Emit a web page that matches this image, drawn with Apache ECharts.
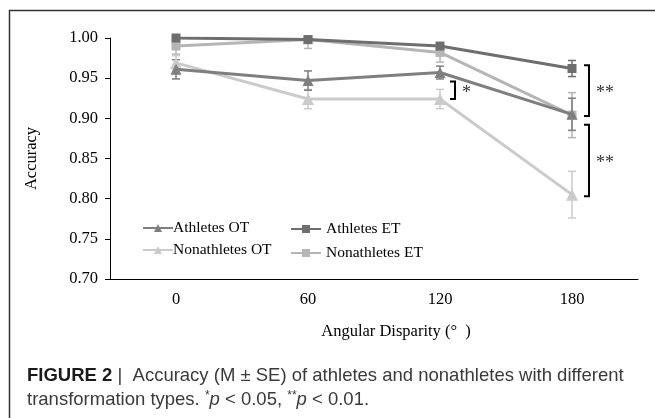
<!DOCTYPE html>
<html>
<head>
<meta charset="utf-8">
<script src="https://cdn.jsdelivr.net/npm/echarts@6/dist/echarts.min.js"></script>
<style>
html,body{margin:0;padding:0;background:#fff;}
#chart{width:655px;height:418px;}
</style>
</head>
<body>
<div id="chart"></div>
<script>
// ---- data ----
const categories = ['0', '60', '120', '180'];
const yTicks = [0.70, 0.75, 0.80, 0.85, 0.90, 0.95, 1.00];

const athletesOT = [0.961, 0.947, 0.957, 0.905];
const athletesOTErr = [0.012, 0.012, 0.008, 0.020];
const athletesET = [1.000, 0.998, 0.990, 0.962];
const athletesETErr = [0.001, 0.001, 0.003, 0.010];
const nonathletesOT = [0.969, 0.924, 0.924, 0.805];
const nonathletesOTErr = [0.009, 0.012, 0.012, 0.029];
const nonathletesET = [0.990, 0.998, 0.982, 0.904];
const nonathletesETErr = [0.010, 0.011, 0.012, 0.028];

// significance brackets: category index, top value, bottom value, label
const sigCat = [2, 3, 3];
const sigTop = [0.946, 0.966, 0.892];
const sigBottom = [0.924, 0.903, 0.803];
const sigLabel = ['*', '**', '**'];

// ---- styles ----
const colAOT = '#7f7f7f';
const colAET = '#6e6e6e';
const colNOT = '#cbcbcb';
const colNET = '#b5b5b5';
const serif = '"Liberation Serif", "Times New Roman", serif';
const sans = '"Liberation Sans", Arial, sans-serif';
const fs = 16.5;
const lfs = 15.5;

function errData(means, errs) {
  return means.map((m, i) => [i, m - errs[i], m + errs[i]]);
}
function errSeries(means, errs, color, z) {
  return {
    type: 'custom',
    data: errData(means, errs),
    z: z,
    silent: true,
    clip: true,
    renderItem: function (params, api) {
      const top = api.coord([api.value(0), api.value(2)]);
      const bot = api.coord([api.value(0), api.value(1)]);
      const w = 4;
      const st = { stroke: color, lineWidth: 1.5 };
      return {
        type: 'group',
        children: [
          { type: 'line', shape: { x1: top[0], y1: top[1], x2: bot[0], y2: bot[1] }, style: st },
          { type: 'line', shape: { x1: top[0] - w, y1: top[1], x2: top[0] + w, y2: top[1] }, style: st },
          { type: 'line', shape: { x1: bot[0] - w, y1: bot[1], x2: bot[0] + w, y2: bot[1] }, style: st }
        ]
      };
    }
  };
}
function lineSeries(name, data, color, symbol, size, z) {
  return {
    name: name, type: 'line', data: data, z: z,
    symbol: symbol, symbolSize: size,
    lineStyle: { color: color, width: 3 },
    itemStyle: { color: color },
    emphasis: { disabled: true }
  };
}

const sigData = sigCat.map((c, i) => [c, sigTop[i], sigBottom[i], sigLabel[i]]);

const chart = echarts.init(document.getElementById('chart'), null, { renderer: 'canvas' });
chart.setOption({
  animation: false,
  backgroundColor: '#fff',
  grid: { left: 110, right: 17, top: 38, bottom: 139, containLabel: false },
  xAxis: {
    type: 'category',
    data: categories,
    boundaryGap: true,
    axisLine: { lineStyle: { color: '#000', width: 1 } },
    axisTick: { show: false },
    axisLabel: { color: '#000', fontFamily: serif, fontSize: fs, margin: 12 },
    name: 'Angular Disparity (°  )',
    nameLocation: 'middle',
    nameGap: 44,
    nameTextStyle: { color: '#000', fontFamily: serif, fontSize: fs, padding: [0, 0, 0, 44] }
  },
  yAxis: {
    type: 'value',
    min: yTicks[0], max: yTicks[yTicks.length - 1], interval: 0.05,
    axisLine: { show: true, lineStyle: { color: '#000', width: 1 } },
    axisTick: { show: true, inside: false, length: 5, lineStyle: { color: '#000' } },
    splitLine: { show: false },
    axisLabel: { color: '#000', fontFamily: serif, fontSize: fs, margin: 12,
      formatter: v => v.toFixed(2) },
    name: 'Accuracy',
    nameLocation: 'middle',
    nameGap: 70,
    nameRotate: 90,
    nameTextStyle: { color: '#000', fontFamily: serif, fontSize: fs }
  },
  legend: [
    {
      data: ['Athletes OT', 'Nonathletes OT'],
      orient: 'vertical', left: 137, top: 215, itemGap: 6, itemWidth: 30, itemHeight: 10,
      textStyle: { color: '#000', fontFamily: serif, fontSize: lfs, padding: [0, 0, 0, -5] },
      selectedMode: false
    },
    {
      data: ['Athletes ET', 'Nonathletes ET'],
      orient: 'vertical', left: 285, top: 216, itemGap: 8, itemWidth: 30, itemHeight: 10,
      textStyle: { color: '#000', fontFamily: serif, fontSize: lfs, padding: [0, 0, 0, 0] },
      selectedMode: false
    }
  ],
  graphic: [
    { type: 'line', shape: { x1: 9, y1: 10.5, x2: 655, y2: 10.5 }, style: { stroke: '#333', lineWidth: 1.5 } },
    { type: 'line', shape: { x1: 9.5, y1: 10, x2: 9.5, y2: 418 }, style: { stroke: '#333', lineWidth: 1.5 } },
    {
      type: 'text', left: 27, top: 366,
      style: {
        text: '{b|FIGURE 2}{n| |  Accuracy (M ± SE) of athletes and nonathletes with different}',
        rich: {
          b: { fontFamily: sans, fontSize: 18.5, fontWeight: 'bold', fill: '#1a1a1a' },
          n: { fontFamily: sans, fontSize: 18.5, fill: '#3a3a3a' }
        }
      }
    },
    {
      type: 'text', left: 27, top: 390,
      style: {
        text: '{n|transformation types. }{s|*}{i|p}{n| < 0.05, }{s|**}{i|p}{n| < 0.01.}',
        rich: {
          n: { fontFamily: sans, fontSize: 18.5, fill: '#3a3a3a' },
          i: { fontFamily: sans, fontSize: 18.5, fontStyle: 'italic', fill: '#3a3a3a' },
          s: { fontFamily: sans, fontSize: 12, fill: '#3a3a3a', verticalAlign: 'top', padding: [0, 0, 8, 0] }
        }
      }
    }
  ],
  series: [
    errSeries(nonathletesOT, nonathletesOTErr, colNOT, 2),
    errSeries(nonathletesET, nonathletesETErr, colNET, 2),
    errSeries(athletesOT, athletesOTErr, colAOT, 3),
    errSeries(athletesET, athletesETErr, colAET, 3),
    lineSeries('Nonathletes OT', nonathletesOT, colNOT, 'triangle', 12, 4),
    lineSeries('Nonathletes ET', nonathletesET, colNET, 'rect', 9, 4),
    lineSeries('Athletes OT', athletesOT, colAOT, 'triangle', 11, 5),
    lineSeries('Athletes ET', athletesET, colAET, 'rect', 9, 5),
    {
      type: 'custom',
      data: sigData,
      z: 6,
      silent: true,
      renderItem: function (params, api) {
        const c = api.value(0);
        const top = api.coord([c, api.value(1)]);
        const bot = api.coord([c, api.value(2)]);
        const label = sigLabel[params.dataIndex];
        const dx0 = label === '*' ? 10 : 12;
        const dx1 = dx0 + 5;
        const x0 = top[0] + dx0, x1 = top[0] + dx1;
        return {
          type: 'group',
          children: [
            { type: 'polyline',
              shape: { points: [[x0, top[1]], [x1, top[1]], [x1, bot[1]], [x0, bot[1]]] },
              style: { stroke: '#000', lineWidth: 2, fill: null } },
            { type: 'text',
              style: { text: label, x: x1 + 7, y: (top[1] + bot[1]) / 2 + 3,
                fill: '#333', fontFamily: serif, fontSize: 18, textVerticalAlign: 'middle', textAlign: 'left' } }
          ]
        };
      }
    }
  ]
});
</script>
</body>
</html>
